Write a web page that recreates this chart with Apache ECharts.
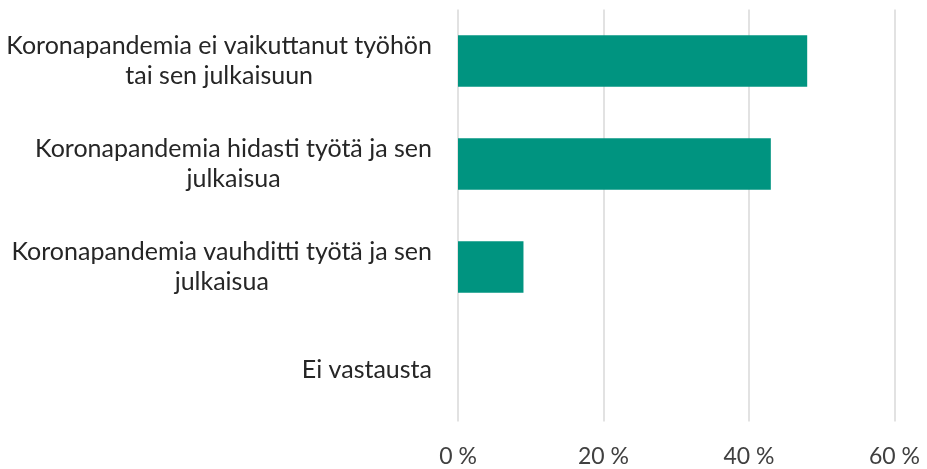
<!DOCTYPE html>
<html>
<head>
<meta charset="utf-8">
<script src="https://cdn.jsdelivr.net/npm/echarts@6/dist/echarts.min.js"></script>
<style>
  html, body { margin: 0; padding: 0; background: #fff; }
  #chart { width: 927px; height: 469px; }
</style>
</head>
<body>
<div id="chart"></div>
<script>
  // vastausvaihtoehdot ylhäältä alas
  var categories = [
    'Koronapandemia ei vaikuttanut työhön\ntai sen julkaisuun',
    'Koronapandemia hidasti työtä ja sen\njulkaisua',
    'Koronapandemia vauhditti työtä ja sen\njulkaisua',
    'Ei vastausta'
  ];
  var shares = [48, 43, 9, 0];
  var xTicks = [0, 20, 40, 60];

  var myChart = echarts.init(document.getElementById('chart'));
  var option = {
    animation: false,
    textStyle: { fontFamily: 'Lato' },
    grid: { left: 458, right: 32.5, top: 9.5, bottom: 47.5 },
    xAxis: {
      type: 'value',
      min: xTicks[0],
      max: xTicks[xTicks.length - 1],
      interval: 20,
      axisLine: { show: false },
      axisTick: { show: false },
      splitLine: { lineStyle: { color: '#d9d9d9', width: 1.5 } },
      axisLabel: {
        formatter: '{value} %',
        color: '#404040',
        fontSize: 23,
        fontFamily: 'Lato',
        margin: 24
      }
    },
    yAxis: {
      type: 'category',
      inverse: true,
      data: categories,
      axisLine: { show: false },
      axisTick: { show: false },
      axisLabel: {
        margin: 26,
        align: 'right',
        formatter: function (v) {
          return v.split('\n').map(function (s) { return '{c|' + s + '}'; }).join('\n');
        },
        rich: {
          c: {
            align: 'center',
            color: '#262626',
            fontSize: 25,
            fontFamily: 'Lato',
            lineHeight: 30
          }
        }
      }
    },
    series: [
      {
        type: 'bar',
        data: shares,
        barCategoryGap: '50%',
        itemStyle: { color: '#009480' }
      }
    ]
  };
  myChart.setOption(option);
</script>
</body>
</html>
